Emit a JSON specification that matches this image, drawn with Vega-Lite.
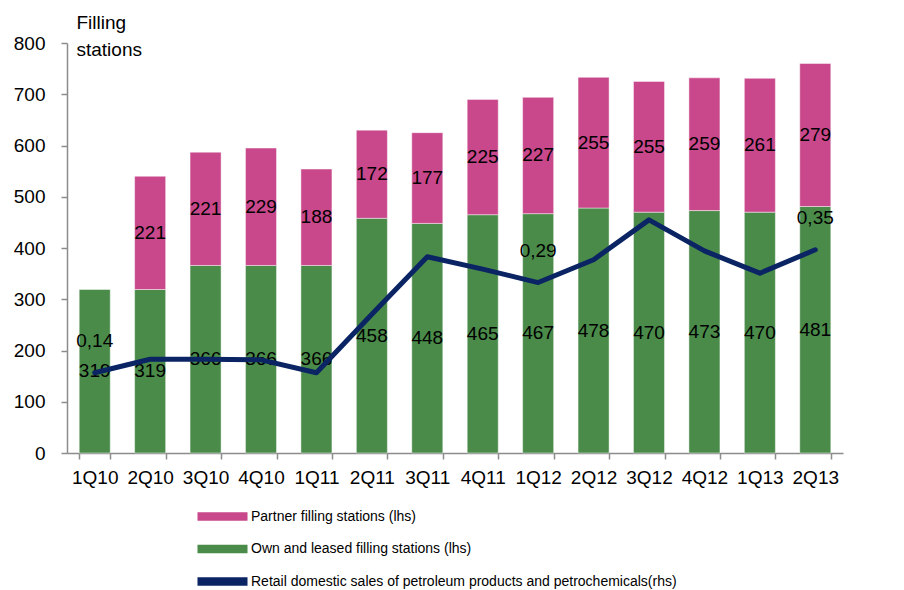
{
  "$schema": "https://vega.github.io/schema/vega-lite/v6.json",
  "width": 776,
  "height": 410,
  "autosize": {"type": "none"},
  "padding": {"left": 67, "top": 43, "right": 61, "bottom": 137},
  "background": "white",
  "config": {
    "view": {"stroke": null},
    "font": "Liberation Sans",
    "locale": {"number": {"decimal": ",", "thousands": ".", "grouping": [3], "currency": ["", " €"]}},
    "axis": {"labelFont": "Liberation Sans", "titleFont": "Liberation Sans", "labelColor": "#000000", "titleColor": "#000000", "domainColor": "#8c8c8c", "tickColor": "#8c8c8c", "domainWidth": 1.5, "tickWidth": 1.5, "grid": false, "labelOverlap": false}
  },
  "data": {
    "values": [
      {"q": "1Q10", "own": 319, "partner": 0, "sales": 0.137, "salesLabel": "0,14"},
      {"q": "2Q10", "own": 319, "partner": 221, "sales": 0.16, "salesLabel": ""},
      {"q": "3Q10", "own": 366, "partner": 221, "sales": 0.16, "salesLabel": ""},
      {"q": "4Q10", "own": 366, "partner": 229, "sales": 0.159, "salesLabel": ""},
      {"q": "1Q11", "own": 366, "partner": 188, "sales": 0.137, "salesLabel": ""},
      {"q": "2Q11", "own": 458, "partner": 172, "sales": 0.237, "salesLabel": ""},
      {"q": "3Q11", "own": 448, "partner": 177, "sales": 0.335, "salesLabel": ""},
      {"q": "4Q11", "own": 465, "partner": 225, "sales": 0.314, "salesLabel": ""},
      {"q": "1Q12", "own": 467, "partner": 227, "sales": 0.291, "salesLabel": "0,29"},
      {"q": "2Q12", "own": 478, "partner": 255, "sales": 0.33, "salesLabel": ""},
      {"q": "3Q12", "own": 470, "partner": 255, "sales": 0.398, "salesLabel": ""},
      {"q": "4Q12", "own": 473, "partner": 259, "sales": 0.345, "salesLabel": ""},
      {"q": "1Q13", "own": 470, "partner": 261, "sales": 0.307, "salesLabel": ""},
      {"q": "2Q13", "own": 481, "partner": 279, "sales": 0.347, "salesLabel": "0,35"}
    ]
  },
  "transform": [
    {"calculate": "datum.own + datum.partner", "as": "total"},
    {"calculate": "datum.own / 2", "as": "ownMid"},
    {"calculate": "datum.own + datum.partner / 2", "as": "partnerMid"}
  ],
  "encoding": {
    "x": {
      "field": "q", "type": "nominal", "sort": null,
      "scale": {"paddingInner": 0.44, "paddingOuter": 0.22},
      "axis": {"title": null, "labelAngle": 0, "labelFontSize": 19, "labelPadding": 9, "tickSize": 6, "tickBand": "extent"}
    }
  },
  "layer": [
    {
      "layer": [
        {
          "mark": {"type": "bar", "stroke": "white", "strokeWidth": 1, "strokeOpacity": 0.45},
          "encoding": {
            "y": {"field": "own", "type": "quantitative", "scale": {"domain": [0, 800]},
              "axis": {"values": [0, 100, 200, 300, 400, 500, 600, 700, 800], "labelFontSize": 19, "tickSize": 6, "labelPadding": 16,
                "title": ["Filling", "stations"], "titleAngle": 0, "titleAlign": "left", "titleBaseline": "alphabetic", "titleFontWeight": "normal", "titleFontSize": 19, "titleLineHeight": 27, "titleX": 9, "titleY": -15}},
            "color": {
              "datum": "Own and leased filling stations (lhs)",
              "scale": {
                "domain": ["Partner filling stations (lhs)", "Own and leased filling stations (lhs)", "Retail domestic sales of petroleum products and petrochemicals(rhs)"],
                "range": ["#c8488b", "#4a8b4a", "#0b2463"]
              },
              "legend": {
                "title": null,
                "orient": "none",
                "legendX": 147,
                "legendY": 465,
                "direction": "vertical",
                "padding": 0,
                "labelFont": "Liberation Sans",
                "labelFontSize": 14,
                "labelColor": "#000000",
                "labelLimit": 700,
                "labelOffset": 20,
                "symbolType": "M-3,-0.5L3,-0.5L3,0.5L-3,0.5Z",
                "symbolSize": 278,
                "rowPadding": 16.5,
                "symbolStrokeWidth": 0,
                "symbolOpacity": 1
              }
            }
          }
        },
        {
          "mark": {"type": "bar", "stroke": "white", "strokeWidth": 1, "strokeOpacity": 0.45},
          "transform": [{"filter": "datum.partner > 0"}],
          "encoding": {
            "y": {"field": "total", "type": "quantitative"},
            "y2": {"field": "own"},
            "color": {"datum": "Partner filling stations (lhs)"}
          }
        },
        {
          "mark": {"type": "text", "fontSize": 19, "color": "#000000", "baseline": "middle"},
          "encoding": {
            "y": {"field": "ownMid", "type": "quantitative"},
            "text": {"field": "own", "type": "nominal"}
          }
        },
        {
          "mark": {"type": "text", "fontSize": 19, "color": "#000000", "baseline": "middle"},
          "transform": [{"filter": "datum.partner > 0"}],
          "encoding": {
            "y": {"field": "partnerMid", "type": "quantitative"},
            "text": {"field": "partner", "type": "nominal"}
          }
        }
      ]
    },
    {
      "layer": [
        {
          "mark": {"type": "line", "strokeWidth": 5, "strokeJoin": "round", "strokeCap": "round"},
          "encoding": {
            "y": {"field": "sales", "type": "quantitative", "scale": {"domain": [0, 0.7], "nice": false},
              "axis": {"orient": "right", "values": [0, 0.05, 0.1, 0.15, 0.2, 0.25, 0.3, 0.35, 0.4, 0.45, 0.5, 0.55, 0.6, 0.65, 0.7],
                "format": ".2f", "labelFontSize": 19, "tickSize": 6, "labelPadding": 13, "labelOverlap": false, "labelSeparation": 0,
                "title": "Million tonnes", "titleAngle": 0, "titleAlign": "right", "titleBaseline": "alphabetic", "titleFontWeight": "normal", "titleFontSize": 19, "titleX": -13, "titleY": -16}},
            "color": {"datum": "Retail domestic sales of petroleum products and petrochemicals(rhs)"}
          }
        },
        {
          "mark": {"type": "text", "fontSize": 19, "color": "#000000", "baseline": "middle", "dy": -32},
          "transform": [{"filter": "datum.salesLabel != ''"}],
          "encoding": {
            "y": {"field": "sales", "type": "quantitative", "axis": null},
            "text": {"field": "salesLabel", "type": "nominal"}
          }
        }
      ]
    }
  ],
  "resolve": {"scale": {"y": "independent"}}
}
